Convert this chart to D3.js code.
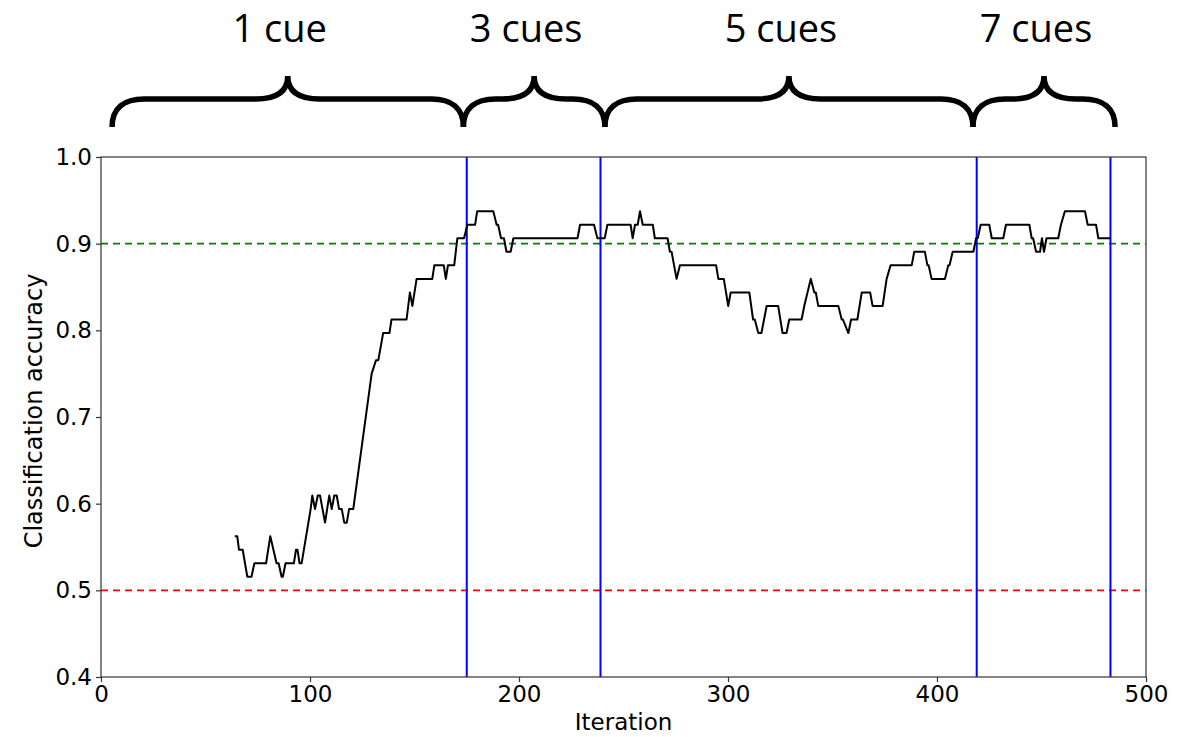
<!DOCTYPE html>
<html>
<head>
<meta charset="utf-8">
<script src="https://cdn.jsdelivr.net/npm/d3@7"></script>
<style>
  html, body { margin: 0; padding: 0; background: #fff; }
  svg { display: block; }
</style>
</head>
<body>
<svg id="chart" width="1192" height="737"></svg>
<script>
// ---- data ----
const iterations = [64,65.2,66,67.8,70,72,73.4,79,81,84,85,86.4,87,88.3,92.3,93.3,94,95,96,100.3,101.1,102.4,103.7,104.8,107.2,109.2,110.4,111.6,112.8,113.9,115.2,116.4,117.6,118.7,120.7,129.5,131.6,132.7,135,138,139,146.2,147.8,149,151,158.5,159.5,164,165,166,169,170.5,173.7,175.3,179,180,187.7,189.3,190,191.4,192.8,194,196,197.3,228,229.2,235.9,237.5,241,242.3,253.4,254.4,255.5,256.8,257.9,259.2,264,265,271.1,272.2,273,275.4,277,294.3,295.4,298,300.1,301.3,310.2,312,312.8,314.5,316,318.5,324,326.1,328,329.3,335.2,336.5,339.6,341.3,342,343.2,352.8,354.4,355,357.6,358.9,361.9,364,368,369.2,374,375.9,377.8,387.9,389.1,394.2,395.4,396,397.4,403.8,405.4,406,407.5,417.4,418.7,419.5,420.9,425,426.2,431.7,433,444.2,445.3,446,447.4,449.3,450.2,451.2,452.4,458,459.3,461.2,470.8,472.1,476.1,477.2,483];
// accuracy numerators (accuracy = n / 64)
const correct64 = [36,36,35,35,33,33,34,34,36,34,34,33,33,34,34,35,35,34,34,38,39,38,39,39,37,39,38,39,39,38,38,37,37,38,38,48,49,49,51,51,52,52,54,53,55,55,56,56,55,56,56,58,58,59,59,60,60,59,59,58,58,57,57,58,58,59,59,58,58,59,59,58,59,59,60,59,59,58,58,57,57,55,56,56,55,55,53,54,54,52,52,51,51,53,53,51,51,52,52,53,55,54,54,53,53,52,52,51,52,52,54,54,53,53,55,56,56,57,57,56,56,55,55,56,56,57,57,58,58,59,59,58,58,59,59,58,58,57,57,58,57,58,58,59,60,60,59,59,58,58];
const accuracy = correct64.map(n => n / 64);

const cueChanges = [175, 239, 419, 483];       // blue vertical lines
const cueLabels = ["1 cue", "3 cues", "5 cues", "7 cues"];
const braceStart = [5.3, 173.4, 241.1, 417.2];
const braceEnd   = [173.4, 241.1, 417.2, 485.2];
const chanceLevel = 0.5;
const targetLevel = 0.9;

const xTicks = [0, 100, 200, 300, 400, 500];
const yTicks = [0.4, 0.5, 0.6, 0.7, 0.8, 0.9, 1.0];

// ---- layout ----
const svg = d3.select("#chart");
const L = 101, R = 1146, T = 157, B = 677;
const x = d3.scaleLinear().domain([0, 500]).range([L, R]);
const y = d3.scaleLinear().domain([0.4, 1.0]).range([B, T]);

const axisFont = "'DejaVu Sans', sans-serif";

// horizontal reference lines
svg.append("line")
  .attr("x1", L).attr("x2", R)
  .attr("y1", y(targetLevel)).attr("y2", y(targetLevel))
  .attr("stroke", "#008000").attr("stroke-width", 1.8)
  .attr("stroke-dasharray", "7,5");
svg.append("line")
  .attr("x1", L).attr("x2", R)
  .attr("y1", y(chanceLevel)).attr("y2", y(chanceLevel))
  .attr("stroke", "#ff0000").attr("stroke-width", 1.8)
  .attr("stroke-dasharray", "7,5");

// blue vertical lines
svg.selectAll("line.cue").data(cueChanges).enter().append("line")
  .attr("class", "cue")
  .attr("x1", d => x(d)).attr("x2", d => x(d))
  .attr("y1", T).attr("y2", B)
  .attr("stroke", "#0000ff").attr("stroke-width", 2);

// accuracy line
const pts = iterations.map((it, i) => [it, accuracy[i]]);
svg.append("path")
  .datum(pts)
  .attr("fill", "none")
  .attr("stroke", "#000")
  .attr("stroke-width", 2)
  .attr("stroke-linejoin", "round")
  .attr("d", d3.line().x(d => x(d[0])).y(d => y(d[1])));

// frame
svg.append("rect")
  .attr("x", L).attr("y", T).attr("width", R - L).attr("height", B - T)
  .attr("fill", "none").attr("stroke", "#333").attr("stroke-width", 1.2);

// axes
const xAxis = svg.append("g").attr("transform", `translate(0,${B})`)
  .call(d3.axisBottom(x).tickValues(xTicks).tickSize(5).tickSizeOuter(0).tickPadding(4).tickFormat(d3.format("d")));
const yAxis = svg.append("g").attr("transform", `translate(${L},0)`)
  .call(d3.axisLeft(y).tickValues(yTicks).tickSize(5).tickSizeOuter(0).tickPadding(4).tickFormat(d3.format(".1f")));
[xAxis, yAxis].forEach(g => {
  g.select(".domain").remove();
  g.selectAll(".tick line").attr("stroke", "#333").attr("stroke-width", 1.2);
  g.selectAll(".tick text").attr("fill", "#000").style("font-family", axisFont).style("font-size", "23px");
});

svg.append("text")
  .attr("x", (L + R) / 2).attr("y", 730)
  .attr("text-anchor", "middle")
  .style("font-family", axisFont).style("font-size", "23px")
  .text("Iteration");
svg.append("text")
  .attr("transform", `translate(42,${(T + B) / 2 - 6}) rotate(-90)`)
  .attr("text-anchor", "middle")
  .style("font-family", axisFont).style("font-size", "24px")
  .text("Classification accuracy");

// braces
function bracePath(x0, x1) {
  const tip = (x0 + x1) / 2, yb = 127, yh = 99, yt = 76, w = 32;
  return `M${x0},${yb} C${x0},${yb - 19} ${x0 + 12},${yh} ${x0 + w},${yh}` +
         ` L${tip - w},${yh} C${tip - 12},${yh} ${tip},${yh - 7} ${tip},${yt}` +
         ` C${tip},${yh - 7} ${tip + 12},${yh} ${tip + w},${yh}` +
         ` L${x1 - w},${yh} C${x1 - 12},${yh} ${x1},${yb - 19} ${x1},${yb}`;
}
svg.selectAll("path.brace").data(cueLabels).enter().append("path")
  .attr("class", "brace")
  .attr("d", (d, i) => bracePath(x(braceStart[i]), x(braceEnd[i])))
  .attr("fill", "none").attr("stroke", "#000").attr("stroke-width", 5.5);

svg.selectAll("text.cue").data(cueLabels).enter().append("text")
  .attr("class", "cue")
  .attr("x", (d, i) => (x(braceStart[i]) + x(braceEnd[i])) / 2 - 8)
  .attr("y", 42)
  .attr("text-anchor", "middle")
  .style("font-family", "'Open Sans', sans-serif").style("font-size", "38px")
  .text(d => d);
</script>
</body>
</html>
